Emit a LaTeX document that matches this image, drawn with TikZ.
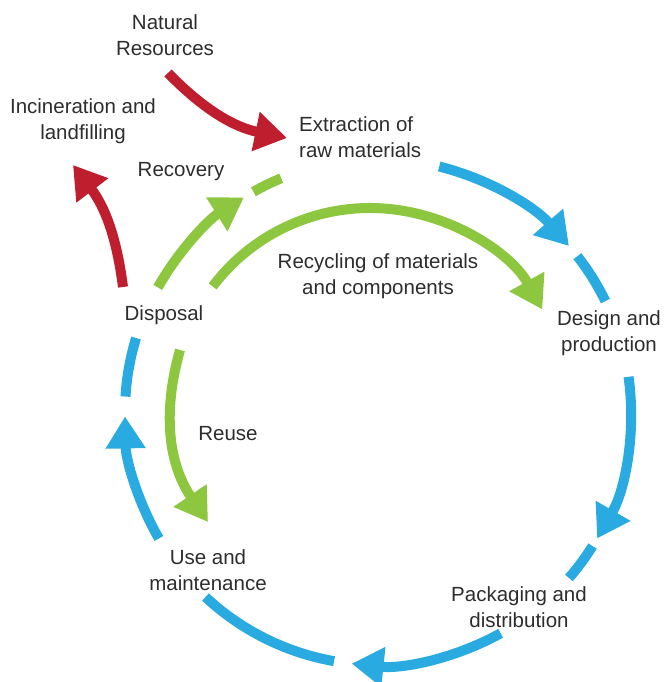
\documentclass[tikz,border=0pt]{standalone}
\usepackage{fontspec}
\setmainfont{Liberation Sans}
\usepackage{tikz}
\usetikzlibrary{arrows.meta}
\definecolor{cielo}{RGB}{41, 171, 226}
\definecolor{hoja}{RGB}{141, 198, 63}
\definecolor{vino}{RGB}{190, 30, 45}
\definecolor{tinta}{RGB}{45, 45, 45}
\tikzset{
    lbl/.style={text=tinta, align=center, inner sep=0pt, font=\fontsize{20.5}{26}\selectfont},
    flow/.style={line width=10pt, -{Triangle[length=32pt, width=38pt]}},
    seg/.style={line width=10pt},
}
\begin{document}
\begin{tikzpicture}[x=1pt, y=1pt]
    \useasboundingbox (0,0) rectangle (665,682);
    \coordinate (c) at (378,270);
    \coordinate (cr) at (370,277);

    \node [lbl] (nat) at (165,647) {Natural\\Resources};
    \node [lbl] (inc) at (83,561) {Incineration and\\landfilling};
    \node [lbl, align=left, anchor=west] (ext) at (299,545) {Extraction of\\raw materials};
    \node [lbl] (rec) at (181,510) {Recovery};
    \node [lbl] (recy) at (378,406) {Recycling of materials\\and components};
    \node [lbl] (dis) at (164,367) {Disposal};
    \node [lbl] (des) at (609,349) {Design and\\production};
    \node [lbl] (reu) at (228,248) {Reuse};
    \node [lbl] (use) at (208,112) {Use and\\maintenance};
    \node [lbl] (pack) at (519,75) {Packaging and\\distribution};

    % main loop
    \draw[flow, cielo] ([shift={(76:253)}]c) arc[start angle=76, end angle=41, radius=253];
    \draw[seg, cielo] ([shift={(38:253)}]c) arc[start angle=38, end angle=26, radius=253];
    \draw[flow, cielo] ([shift={(8:253)}]c) arc[start angle=8, end angle=-30, radius=253];
    \draw[seg, cielo] ([shift={(-32:253)}]c) arc[start angle=-32, end angle=-41, radius=253];
    \draw[flow, cielo] ([shift={(-61:253)}]c) arc[start angle=-61, end angle=-96, radius=253];
    \draw[seg, cielo] ([shift={(-100:253)}]c) arc[start angle=-100, end angle=-133, radius=253];
    \draw[flow, cielo] ([shift={(-150:253)}]c) arc[start angle=-150, end angle=-179, radius=253];
    \draw[seg, cielo] ([shift={(176.5:253)}]c) arc[start angle=176.5, end angle=163, radius=253];

    % recovery, recycling, reuse
    \draw[flow, hoja] ([shift={(150.5:253)}]c) arc[start angle=150.5, end angle=122, radius=253];
    \draw[seg, hoja] ([shift={(119.5:253)}]c) arc[start angle=119.5, end angle=112.5, radius=253];
    \draw[flow, hoja] ([shift={(143:197)}]cr) arc[start angle=143, end angle=29, radius=197];
    \coordinate (reu-a) at (180,332);
    \coordinate (reu-b) at (208,160);
    \draw[flow, hoja] (reu-a) to[bend right=25] (reu-b);

    % in and out of the loop
    \coordinate (nat-a) at (168,609);
    \coordinate (ext-a) at (287,544);
    \draw[flow, vino] (nat-a) to[bend right=17] (ext-a);
    \coordinate (dis-a) at (123,395);
    \coordinate (inc-a) at (73,517);
    \draw[flow, vino] (dis-a) to[bend right=15] (inc-a);
\end{tikzpicture}
\end{document}
